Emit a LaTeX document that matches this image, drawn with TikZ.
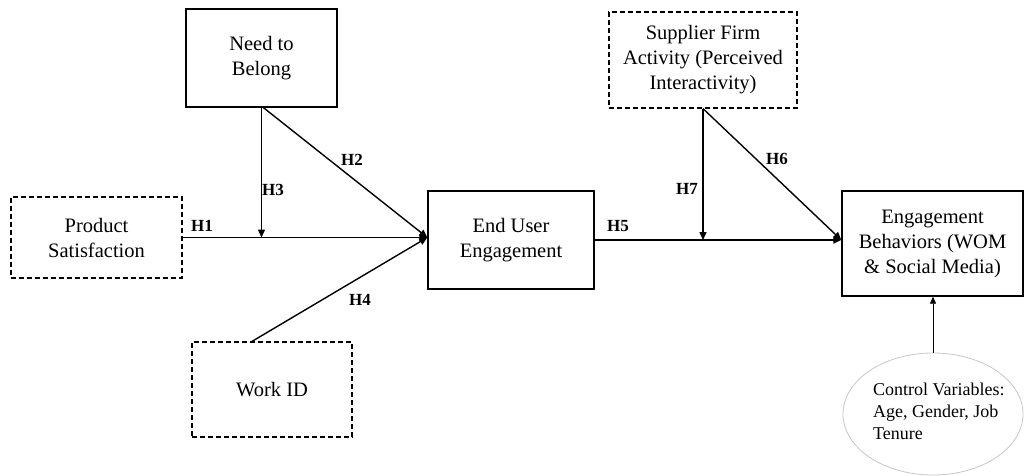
\documentclass[tikz,border=0pt]{standalone}
\usepackage{fontspec}
\setmainfont{Liberation Serif}
\usetikzlibrary{arrows.meta,shapes.geometric}
\tikzset{
  box/.style={draw, line width=1.4pt, align=center, inner sep=0pt,
    font=\fontsize{20.5}{25}\selectfont},
  dbox/.style={box, line width=1.2pt, dash pattern=on 5pt off 3pt},
  conn/.style={line width=1.4pt, -{Triangle[length=8pt,width=7pt]}},
  hyp/.style={font=\fontsize{17}{20}\selectfont\bfseries, inner sep=0pt},
}
\begin{document}
\begin{tikzpicture}[x=1pt,y=-1pt]
\useasboundingbox (0,0) rectangle (1025,476);
\node[box, minimum width=151pt, minimum height=98pt] (nb) at (261.5,58) {Need to\\Belong};
\node[dbox, minimum width=171pt, minimum height=81pt] (ps) at (96.5,237.5) {Product\\Satisfaction};
\node[dbox, minimum width=160pt, minimum height=95pt] (wid) at (272,389.5) {Work ID};
\node[box, minimum width=166pt, minimum height=98pt] (eu) at (511,240) {End User\\Engagement};
\node[dbox, minimum width=188pt, minimum height=96pt] (sf) at (703,60) {Supplier Firm\\Activity (Perceived\\Interactivity)};
\node[box, minimum width=181pt, minimum height=105pt] (eb) at (932.5,243.5) {Engagement\\Behaviors (WOM\\\& Social Media)};
\node[draw=black!22, line width=0.8pt, ellipse, minimum width=180pt, minimum height=122pt] (ctrl) at (933,414) {};
\node[anchor=north west, align=left, inner sep=0pt, font=\fontsize{18}{22}\selectfont] (ctrltext) at (873,383) {Control Variables:\\Age, Gender, Job\\Tenure};

\coordinate (m1) at (ps.east -| eu.west);
\coordinate (m2) at (eu.east -| eb.west);

\draw[conn] (ps.east) -- (m1);
\draw[conn] (nb.south) -- (nb.south |- m1);
\draw[conn] ([xshift=2pt]nb.south) -- (m1);
\draw[conn] ([xshift=-20pt]wid.north) -- (m1);
\draw[conn] (eu.east) -- (m2);
\draw[conn] (sf.south) -- (sf.south |- m2);
\draw[conn] (sf.south) -- (m2);
\draw[line width=0.8pt, -{Triangle[length=7pt,width=6pt]}] (ctrl.north) -- (ctrl.north |- eb.south);

\node[hyp] (h1) at (202,226) {H1};
\node[hyp] (h2) at (352,160) {H2};
\node[hyp] (h3) at (273,190) {H3};
\node[hyp] (h4) at (360,300) {H4};
\node[hyp] (h5) at (618,226) {H5};
\node[hyp] (h6) at (777,159) {H6};
\node[hyp] (h7) at (687,189) {H7};
\end{tikzpicture}
\end{document}
